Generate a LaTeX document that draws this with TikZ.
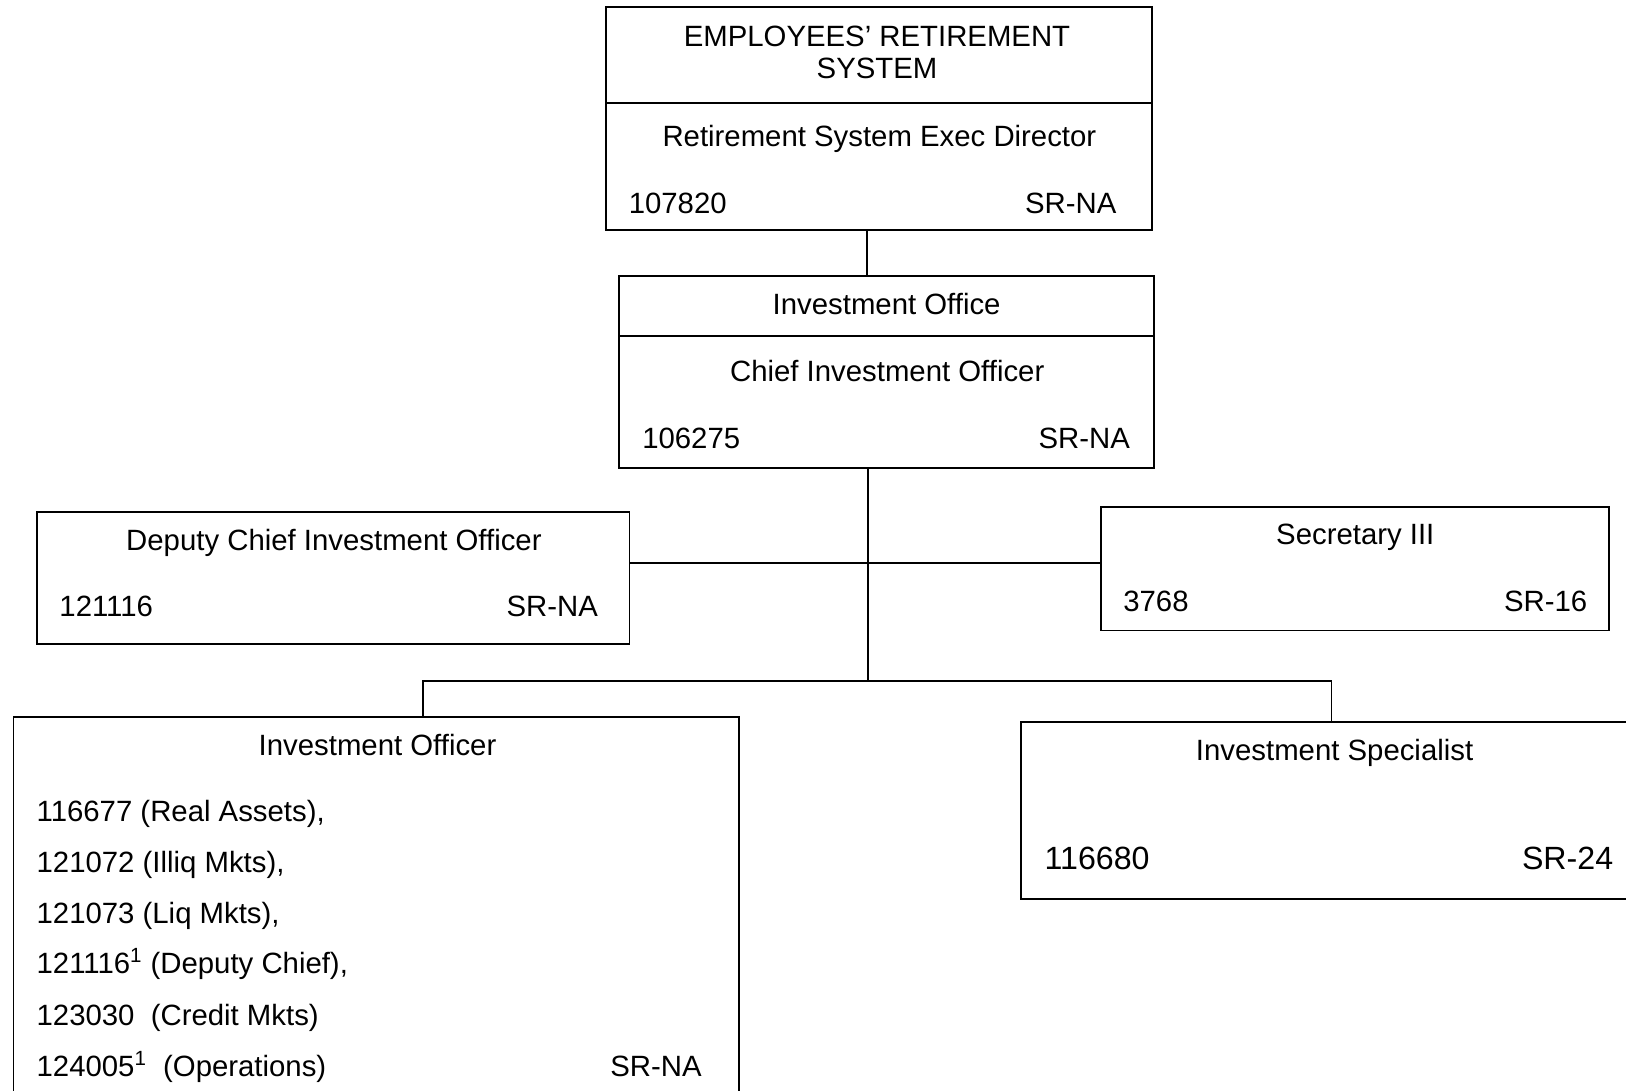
\documentclass[tikz,border=0pt]{standalone}
\usepackage{fontspec}
\setmainfont{Liberation Sans}
\usetikzlibrary{fit}
\tikzset{
    box/.style={draw, line width=1.1pt, inner sep=0pt},
    link/.style={line width=1pt},
    txt/.style={inner sep=0pt, text depth=0pt, font=\fontsize{16.7}{18.5}\selectfont},
    bigtxt/.style={txt, font=\fontsize{18.3}{20}\selectfont},
}
\begin{document}
\begin{tikzpicture}[x=0.02cm, y=-0.02cm]
            \useasboundingbox (0,0) rectangle (1626,1091);
            \clip (0,0) rectangle (1626,1091);

            \node[box, fit={(605.6,7.3) (1152.1,230.2)}] (ers) {};
            \draw[box] (605.6,102.7) -- (1152.1,102.7);
            \node[txt, align=center] (ers-name) at (877,52.3) {EMPLOYEES' RETIREMENT\\SYSTEM};
            \node[txt] (ers-title) at (879.4,135.8) {Retirement System Exec Director};
            \node[txt, anchor=west] (ers-num) at (628.4,203.3) {107820};
            \node[txt, anchor=east] (ers-code) at (1116.8,203.3) {SR-NA};

            \node[box, fit={(619.1,275.8) (1154.2,467.7)}] (cio) {};
            \draw[box] (619.1,336) -- (1154.2,336);
            \node[txt] (cio-name) at (886.6,303.8) {Investment Office};
            \node[txt] (cio-title) at (887.2,371.2) {Chief Investment Officer};
            \node[txt, anchor=west] (cio-num) at (641.9,438.6) {106275};
            \node[txt, anchor=east] (cio-code) at (1130.3,438.6) {SR-NA};

            \node[box, fit={(37.3,512.3) (629.5,644)}] (dep) {};
            \node[txt] (dep-title) at (333.9,540.3) {Deputy Chief Investment Officer};
            \node[txt, anchor=west] (dep-num) at (59.1,606.6) {121116};
            \node[txt, anchor=east] (dep-code) at (598.3,606.6) {SR-NA};

            \node[box, fit={(1101.3,507.1) (1609.4,630.5)}] (sec) {};
            \node[txt] (sec-title) at (1355.3,534) {Secretary III};
            \node[txt, anchor=west] (sec-num) at (1123,601.5) {3768};
            \node[txt, anchor=east] (sec-code) at (1587.6,601.5) {SR-16};

            \node[box, fit={(13.5,716.6) (739.4,1120)}] (inv) {};
            \node[txt] (inv-title) at (377.5,744.6) {Investment Officer};
            \node[txt, anchor=west] (inv-l1) at (36.3,811) {116677 (Real Assets),};
            \node[txt, anchor=west] (inv-l2) at (36.3,861.7) {121072 (Illiq Mkts),};
            \node[txt, anchor=west] (inv-l3) at (36.3,912.6) {121073 (Liq Mkts),};
            \node[txt, anchor=west, yshift=1.2pt] (inv-l4) at (36.3,963.4) {121116\textsuperscript{1} (Deputy Chief),};
            \node[txt, anchor=west] (inv-l5) at (36.3,1015.2) {123030\ \ (Credit Mkts)};
            \node[txt, anchor=west, yshift=1.2pt] (inv-l6) at (36.3,1066) {124005\textsuperscript{1}\ \ (Operations)};
            \node[txt, anchor=east] (inv-code) at (702,1066) {SR-NA};

            \node[box, fit={(1021.4,721.8) (1660,899.1)}] (spec) {};
            \node[txt] (spec-title) at (1334.6,749.8) {Investment Specialist};
            \node[bigtxt, anchor=west] (spec-num) at (1044.3,858.6) {116680};
            \node[bigtxt, anchor=east] (spec-code) at (1613.5,858.6) {SR-24};

            \coordinate (top) at (866.9,250);
            \coordinate (mid) at (868,563.1);
            \coordinate (bar) at (868,681.3);
            \coordinate (barl) at (423.1,681.3);
            \coordinate (barr) at (1331.5,681.3);

            \draw[link] (ers.south -| top) -- (cio.north -| top);
            \draw[link] (cio.south -| mid) -- (bar);
            \draw[link] (dep.east |- mid) -- (sec.west |- mid);
            \draw[link] (inv.north -| barl) -- (barl) -- (barr) -- (spec.north -| barr);
\end{tikzpicture}
\end{document}
